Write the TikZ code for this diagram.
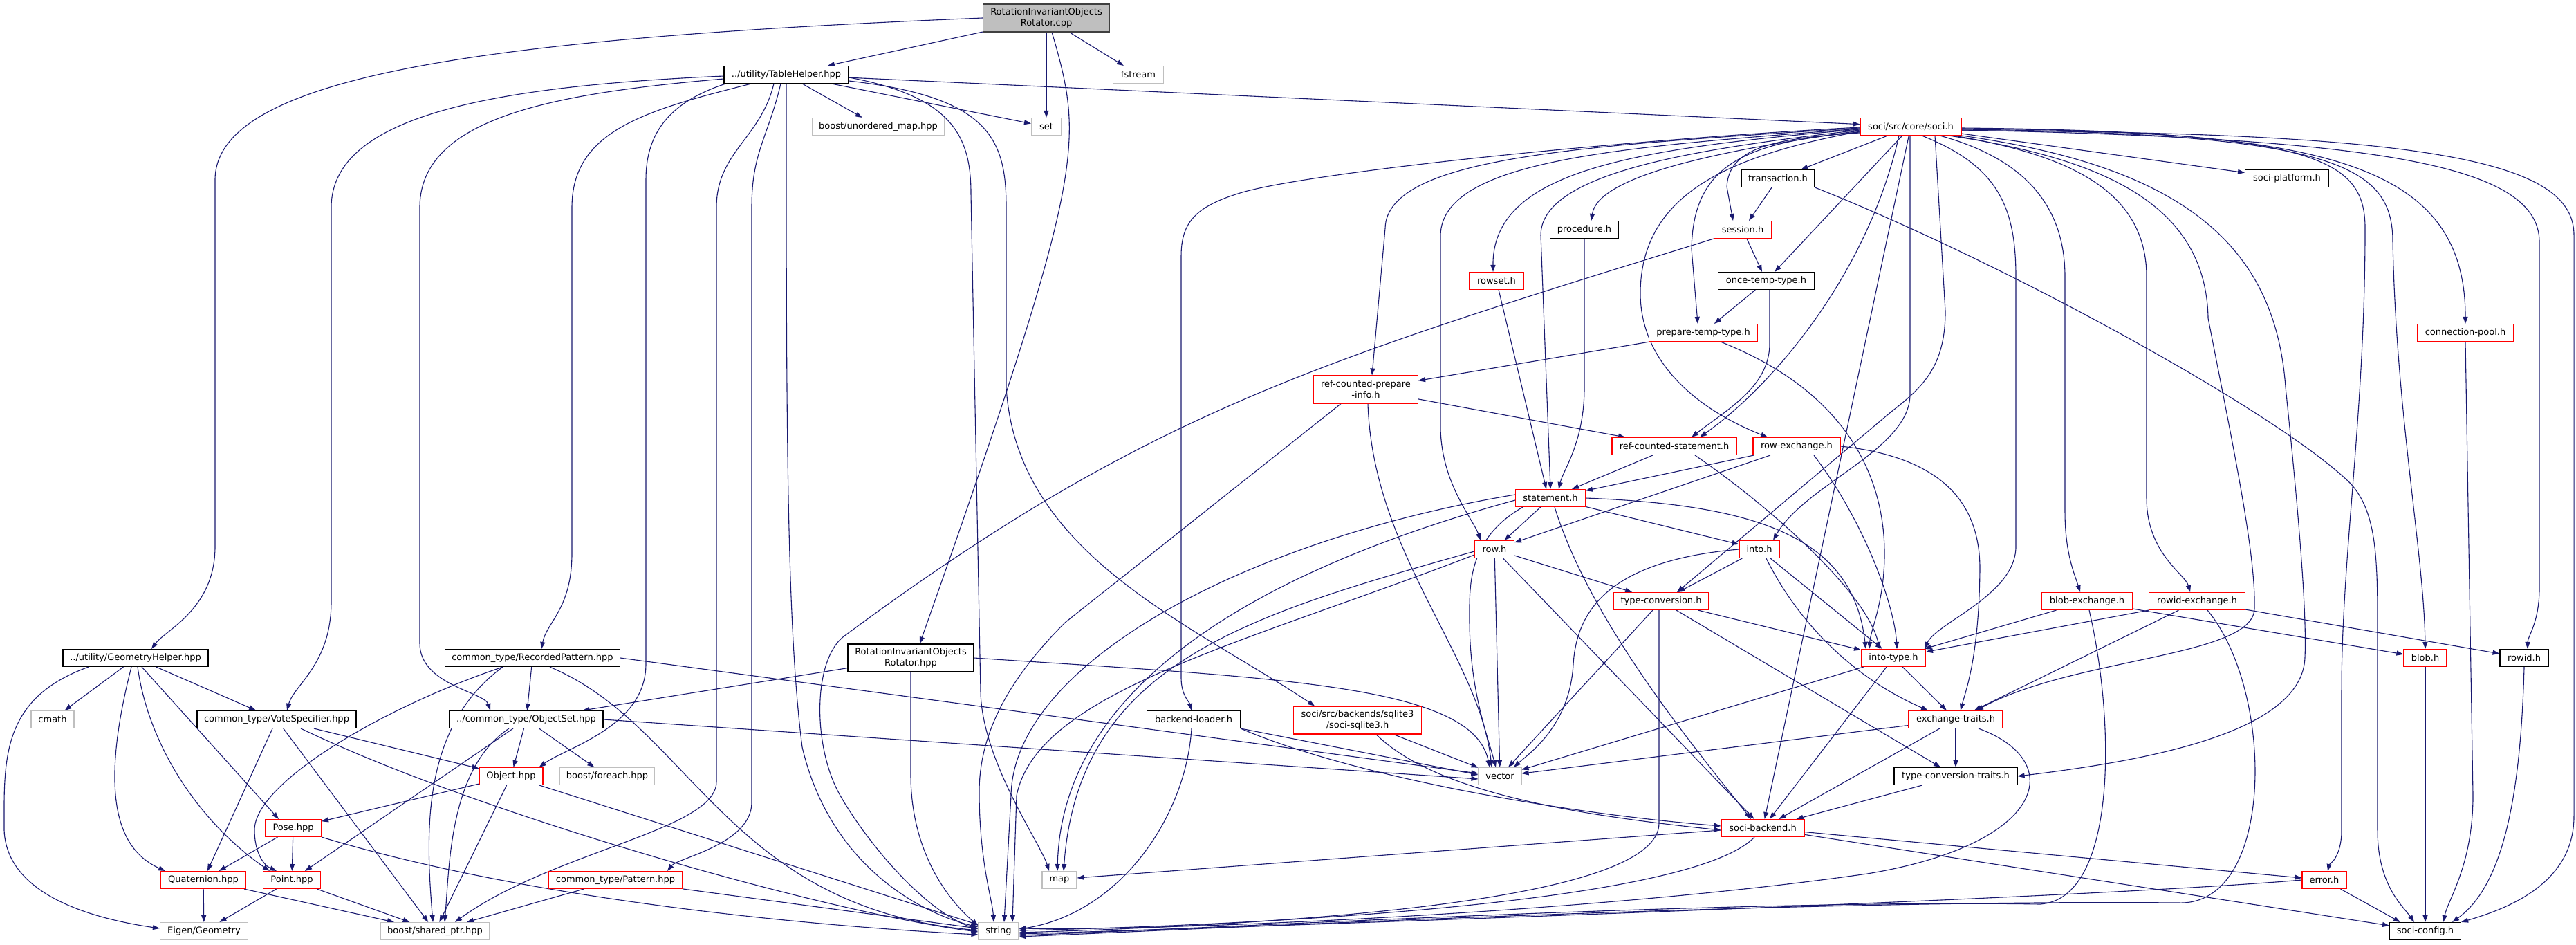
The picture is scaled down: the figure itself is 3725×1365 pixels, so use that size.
\documentclass[tikz,border=0pt]{standalone}
\usepackage{fontspec}
\newfontfamily\dvs{DejaVu Sans}
\usetikzlibrary{arrows.meta,backgrounds}
\definecolor{edgec}{HTML}{191970}
\definecolor{gbord}{HTML}{BFBFBF}
\definecolor{rootfill}{HTML}{BFBFBF}
\definecolor{rootdraw}{HTML}{404040}
\definecolor{redb}{HTML}{FF0000}
\begin{document}
\begin{tikzpicture}[x=1pt,y=1pt,
  nd/.style={draw, line width=1.1pt, fill=white, minimum height=25pt, inner xsep=4pt, inner ysep=2pt,
    font=\dvs\fontsize{13pt}{16pt}\selectfont, text=black, align=center},
  blk/.style={nd, draw=black},
  rd/.style={nd, draw=redb},
  gr/.style={nd, draw=gbord},
  rt/.style={nd, draw=rootdraw, fill=rootfill},
  two/.style={minimum height=40pt},
  edg/.style={draw=edgec, line width=1.1pt, -{Triangle[length=10pt,width=7pt]}}]
\useasboundingbox (0,0) rectangle (3725,-1365);

% ---------- nodes ----------
\node[rt,two,minimum width=183pt] (root) at (1513,-26) {RotationInvariantObjects\\Rotator.cpp};
\node[blk,minimum width=180pt] (th) at (1137,-108) {../utility/TableHelper.hpp};
\node[gr,minimum width=73pt] (fstream) at (1646,-108) {fstream};
\node[gr,minimum width=191pt] (unord) at (1270,-183) {boost/unordered\_map.hpp};
\node[gr,minimum width=43pt] (set) at (1513,-183) {set};
\node[rd,minimum width=146pt] (soci) at (2763,-183) {soci/src/core/soci.h};
\node[blk,minimum width=106pt] (trans) at (2571,-258) {transaction.h};
\node[blk,minimum width=121pt] (platform) at (3307,-258) {soci-platform.h};
\node[blk,minimum width=99pt] (proc) at (2291,-332) {procedure.h};
\node[rd,minimum width=83pt] (sess) at (2520,-332) {session.h};
\node[rd,minimum width=79pt] (rowset) at (2164,-406) {rowset.h};
\node[blk,minimum width=139pt] (once) at (2554,-406) {once-temp-type.h};
\node[rd,minimum width=157pt] (prep) at (2463,-481) {prepare-temp-type.h};
\node[rd,minimum width=139pt] (cpool) at (3565,-481) {connection-pool.h};
\node[rd,two,minimum width=151pt] (rcpi) at (1975,-563) {ref-counted-prepare\\-info.h};
\node[rd,minimum width=180pt] (rcs) at (2421,-645) {ref-counted-statement.h};
\node[rd,minimum width=126pt] (rowex) at (2598,-645) {row-exchange.h};
\node[rd,minimum width=101pt] (stmt) at (2242,-720) {statement.h};
\node[rd,minimum width=57pt] (row) at (2161,-794) {row.h};
\node[rd,minimum width=58pt] (into) at (2544,-794) {into.h};
\node[rd,minimum width=138pt] (tconv) at (2402,-869) {type-conversion.h};
\node[rd,minimum width=131pt] (blobex) at (3018,-869) {blob-exchange.h};
\node[rd,minimum width=139pt] (rowidex) at (3177,-869) {rowid-exchange.h};
\node[blk,minimum width=210pt] (geom) at (196,-951) {../utility/GeometryHelper.hpp};
\node[blk,minimum width=253pt] (recpat) at (770,-951) {common\_type/RecordedPattern.hpp};
\node[blk,two,minimum width=182pt] (rothpp) at (1317,-951) {RotationInvariantObjects\\Rotator.hpp};
\node[rd,minimum width=93pt] (intotype) at (2738,-951) {into-type.h};
\node[rd,minimum width=62pt] (blob) at (3507,-951) {blob.h};
\node[blk,minimum width=70pt] (rowid) at (3650,-951) {rowid.h};
\node[gr,minimum width=62pt] (cmath) at (76,-1040) {cmath};
\node[blk,minimum width=230pt] (vote) at (400,-1040) {common\_type/VoteSpecifier.hpp};
\node[blk,minimum width=222pt] (objset) at (761,-1040) {../common\_type/ObjectSet.hpp};
\node[blk,minimum width=135pt] (bload) at (1726,-1040) {backend-loader.h};
\node[rd,two,minimum width=185pt] (sqlite) at (1963,-1041) {soci/src/backends/sqlite3\\/soci-sqlite3.h};
\node[rd,minimum width=136pt] (extraits) at (2828,-1040) {exchange-traits.h};
\node[rd,minimum width=92pt] (object) at (739,-1122) {Object.hpp};
\node[gr,minimum width=137pt] (foreach) at (878,-1122) {boost/foreach.hpp};
\node[gr,minimum width=62pt] (vector) at (2169,-1122) {vector};
\node[blk,minimum width=178pt] (tctraits) at (2828,-1122) {type-conversion-traits.h};
\node[rd,minimum width=81pt] (pose) at (424,-1197) {Pose.hpp};
\node[rd,minimum width=120pt] (backend) at (2549,-1197) {soci-backend.h};
\node[rd,minimum width=123pt] (quat) at (294,-1272) {Quaternion.hpp};
\node[rd,minimum width=83pt] (point) at (422,-1272) {Point.hpp};
\node[rd,minimum width=193pt] (pattern) at (890,-1272) {common\_type/Pattern.hpp};
\node[gr,minimum width=50pt] (map) at (1532,-1272) {map};
\node[rd,minimum width=64pt] (error) at (3361,-1272) {error.h};
\node[gr,minimum width=127pt] (eigen) at (295,-1346) {Eigen/Geometry};
\node[gr,minimum width=158pt] (shptr) at (629,-1346) {boost/shared\_ptr.hpp};
\node[gr,minimum width=58pt] (string) at (1444,-1346) {string};
\node[blk,minimum width=103pt] (config) at (3507,-1346) {soci-config.h};

\begin{pgfonlayer}{background}
\fill[white] (0,0) rectangle (3725,-1365);
% root
\draw[edg] (root) -- (th);
\draw[edg] (root) -- (set);
\draw[edg] (root) -- (fstream);
\draw[edg] (root.west) .. controls (700,-55) and (311,-110) .. (311,-260) -- (311,-790) .. controls (311,-880) and (240,-910) .. ([xshift=23pt]geom.north);
\draw[edg] ([xshift=8pt]root.south) .. controls (1540,-110) and (1548,-150) .. (1546,-200) .. controls (1542,-300) and (1500,-450) .. ([xshift=13pt]rothpp.north);
% TableHelper
\draw[edg] (th) -- (unord);
\draw[edg] (th) -- (set);
\draw[edg] (th) -- (soci);
\draw[edg] ([yshift=-2pt]th.west) .. controls (700,-125) and (479,-170) .. (479,-300) -- (479,-870) .. controls (479,-960) and (425,-990) .. ([xshift=15pt]vote.north);
\draw[edg] ([yshift=-6pt]th.west) .. controls (800,-135) and (607,-170) .. (607,-300) -- (607,-930) .. controls (607,-990) and (700,-1000) .. ([xshift=-52pt]objset.north);
\draw[edg] ([xshift=40pt]th.south west) .. controls (930,-160) and (827,-190) .. (827,-300) -- (827,-800) .. controls (827,-880) and (790,-900) .. ([xshift=13pt]recpat.north);
\draw[edg] ([xshift=3pt]th.south west) .. controls (960,-150) and (934,-200) .. (934,-260) -- (934,-960) .. controls (934,-1050) and (820,-1080) .. ([xshift=-6pt]object.north east);
\draw[edg] ([xshift=-18pt]th.south) .. controls (1100,-200) and (1036,-220) .. (1036,-300) -- (1036,-1130) .. controls (1036,-1200) and (800,-1230) .. ([xshift=29pt]shptr.north);
\draw[edg] ([xshift=-8pt]th.south) .. controls (1110,-200) and (1087,-220) .. (1087,-300) -- (1087,-1160) .. controls (1087,-1220) and (980,-1240) .. ([xshift=75pt]pattern.north);
\draw[edg] (th.south) .. controls (1137,-600) and (1137,-900) .. (1160,-1080) .. controls (1200,-1250) and (1330,-1320) .. ([yshift=6pt]string.west);
\draw[edg] ([yshift=-4pt]th.east) .. controls (1380,-140) and (1404,-200) .. (1404,-280) -- (1418,-1000) .. controls (1420,-1100) and (1505,-1220) .. ([xshift=-15pt]map.north);
\draw[edg] ([yshift=-9pt]th.east) .. controls (1430,-140) and (1455,-200) .. (1455,-300) -- (1455,-560) .. controls (1470,-800) and (1720,-900) .. ([xshift=-62pt]sqlite.north);
% soci.h left fan
\draw[edg] ([yshift=-1pt]soci.west) .. controls (2300,-205) and (1900,-250) .. (1800,-277) .. controls (1730,-297) and (1708,-320) .. (1708,-370) -- (1708,-980) .. controls (1708,-1005) and (1720,-1015) .. ([xshift=-3pt]bload.north);
\draw[edg] ([yshift=-2pt]soci.west) .. controls (2300,-210) and (2005,-225) .. (2003,-330) -- ([xshift=9pt]rcpi.north);
\draw[edg] ([yshift=-3pt]soci.west) .. controls (2350,-212) and (2085,-230) .. (2083,-340) -- (2083,-620) .. controls (2085,-700) and (2130,-750) .. ([xshift=-20pt]row.north);
\draw[edg] ([yshift=-4pt]soci.west) .. controls (2350,-215) and (2158,-250) .. ([xshift=-5pt]rowset.north);
\draw[edg] ([yshift=-5pt]soci.west) .. controls (2450,-215) and (2228,-250) .. (2228,-340) -- (stmt.north);
\draw[edg] ([yshift=-6pt]soci.west) .. controls (2450,-222) and (2310,-260) .. ([xshift=10pt]proc.north);
\draw[edg] ([yshift=-7pt]soci.west) .. controls (2500,-225) and (2375,-280) .. (2372,-420) .. controls (2370,-520) and (2450,-590) .. ([xshift=-42pt]rowex.north);
\draw[edg] ([yshift=-8pt]soci.west) .. controls (2520,-205) and (2448,-240) .. (2446,-360) -- ([xshift=-8pt]prep.north);
\draw[edg] ([yshift=-9pt]soci.west) .. controls (2560,-200) and (2500,-215) .. (2497,-270) -- ([xshift=-14pt]sess.north);
% soci.h down
\draw[edg] (soci) -- (trans);
\draw[edg] (soci) -- (once);
\draw[edg] ([xshift=-17pt]soci.south) .. controls (2700,-400) and (2560,-560) .. ([xshift=37pt]rcs.north);
\draw[edg] ([xshift=-1pt]soci.south) -- (2762,-570) .. controls (2762,-650) and (2610,-700) .. ([xshift=20pt]into.north);
\draw[edg] ([xshift=35pt]soci.south) -- (2813,-450) .. controls (2813,-530) and (2780,-560) .. (2735,-595) -- ([xshift=23pt]tconv.north);
\draw[edg] ([xshift=16pt]soci.south) .. controls (2890,-240) and (2915,-300) .. (2915,-400) -- (2915,-790) .. controls (2915,-860) and (2800,-900) .. ([xshift=45pt]intotype.north);
\draw[edg] ([xshift=42pt]soci.south) .. controls (2930,-230) and (2986,-300) .. (2986,-400) -- (2986,-740) .. controls (2986,-800) and (3000,-830) .. ([xshift=-10pt]blobex.north);
\draw[edg] ([xshift=62pt]soci.south) .. controls (3000,-225) and (3104,-280) .. (3104,-400) -- (3104,-720) .. controls (3104,-800) and (3160,-830) .. ([xshift=-10pt]rowidex.north);
\draw[edg] ([xshift=55pt]soci.south) .. controls (3050,-230) and (3190,-300) .. (3193,-460) .. controls (3230,-650) and (3262,-800) .. (3260,-880) .. controls (3258,-950) and (3000,-950) .. ([xshift=30pt]extraits.north);
\draw[edg] (soci.south east) .. controls (3150,-240) and (3290,-350) .. (3305,-560) .. controls (3330,-800) and (3335,-900) .. (3333,-950) .. controls (3330,-1060) and (3100,-1100) .. (tctraits.east);
\draw[edg] (soci) -- (backend);
% soci.h right
\draw[edg] (soci) -- (platform);
\draw[edg] ([yshift=-2pt]soci.east) .. controls (3350,-190) and (3565,-230) .. (cpool.north);
\draw[edg] ([yshift=-3pt]soci.east) .. controls (3350,-190) and (3420,-230) .. (3420,-330) .. controls (3420,-600) and (3386,-800) .. (3386,-1000) -- (3386,-1200) .. controls (3386,-1240) and (3368,-1250) .. ([xshift=5pt]error.north);
\draw[edg] ([yshift=-4pt]soci.east) .. controls (3380,-193) and (3460,-240) .. (3460,-350) .. controls (3465,-600) and (3505,-800) .. (blob.north);
\draw[edg] ([yshift=-5pt]soci.east) .. controls (3450,-200) and (3672,-240) .. (3672,-350) -- (3672,-850) .. controls (3672,-900) and (3655,-920) .. ([xshift=5pt]rowid.north);
\draw[edg] ([yshift=-6pt]soci.east) .. controls (3550,-190) and (3722,-240) .. (3722,-340) -- (3722,-1180) .. controls (3722,-1280) and (3620,-1315) .. (config.north east);
% transaction, session, once, procedure, rowset
\draw[edg] (trans) -- (sess);
\draw[edg] (trans.south east) .. controls (2900,-380) and (3300,-600) .. (3400,-700) .. controls (3435,-740) and (3438,-800) .. (3438,-900) -- (3438,-1200) .. controls (3438,-1280) and (3475,-1310) .. ([xshift=-16pt]config.north);
\draw[edg] (sess) -- (once);
\draw[edg] (sess.south west) .. controls (1907,-522) and (1659,-595) .. (1220,-920) .. controls (1175,-955) and (1175,-1080) .. (1215,-1150) .. controls (1255,-1220) and (1340,-1320) .. ([yshift=3pt]string.west);
\draw[edg] (once) -- (prep);
\draw[edg] ([xshift=5pt]once.south) -- (2559,-500) .. controls (2556,-560) and (2500,-590) .. ([xshift=25pt]rcs.north);
\draw[edg] (proc.south) -- (2291,-560) .. controls (2291,-640) and (2260,-680) .. ([xshift=12pt]stmt.north);
\draw[edg] (rowset) -- ([xshift=-6pt]stmt.north);
% prepare, ref-counted
\draw[edg] (prep) -- (rcpi);
\draw[edg] ([xshift=25pt]prep.south) .. controls (2680,-570) and (2725,-700) .. (2725,-800) .. controls (2725,-870) and (2705,-910) .. ([xshift=-35pt]intotype.north);
\draw[edg] (rcpi) -- (rcs);
\draw[edg] ([xshift=3pt]rcpi.south) .. controls (1985,-800) and (2140,-950) .. ([xshift=-12pt]vector.north);
\draw[edg] ([xshift=-36pt]rcpi.south) -- (1540,-900) .. controls (1440,-1000) and (1415,-1080) .. (1416,-1150) .. controls (1417,-1250) and (1435,-1300) .. ([xshift=-7pt]string.north);
\draw[edg] (rcs) -- (stmt);
\draw[edg] ([xshift=30pt]rcs.south) .. controls (2570,-740) and (2700,-860) .. ([xshift=-20pt]intotype.north);
% row-exchange
\draw[edg] (rowex) -- (stmt);
\draw[edg] (rowex) -- (row);
\draw[edg] ([xshift=25pt]rowex.south) .. controls (2700,-760) and (2740,-880) .. ([xshift=5pt]intotype.north);
\draw[edg] (rowex.east) .. controls (2800,-660) and (2862,-720) .. (2863,-820) .. controls (2862,-950) and (2842,-1000) .. ([xshift=7pt]extraits.north);
% statement
\draw[edg] (stmt) -- (row);
\draw[edg] (stmt) -- (into);
\draw[edg] (stmt.east) .. controls (2550,-730) and (2680,-780) .. ([xshift=-40pt]intotype.north);
\draw[edg] ([xshift=6pt]stmt.south) .. controls (2300,-900) and (2450,-1080) .. ([xshift=-17pt]backend.north);
\draw[edg] ([xshift=-40pt]stmt.south) .. controls (2120,-780) and (2125,-850) .. (2125,-900) .. controls (2126,-1000) and (2150,-1060) .. ([xshift=-6pt]vector.north);
\draw[edg] ([yshift=5pt]stmt.west) .. controls (1800,-780) and (1465,-960) .. (1462,-1150) -- ([xshift=8pt]string.north);
\draw[edg] ([yshift=-3pt]stmt.west) .. controls (1800,-830) and (1535,-1000) .. ([xshift=-3pt]map.north);
% row
\draw[edg] (row) -- (tconv);
\draw[edg] (row) -- (vector);
\draw[edg] (row) -- (backend);
\draw[edg] ([yshift=-3pt]row.west) .. controls (1800,-890) and (1560,-960) .. ([xshift=6pt]map.north);
\draw[edg] ([yshift=-8pt]row.west) .. controls (1800,-930) and (1500,-1000) .. (1470,-1150) -- ([xshift=20pt]string.north);
% into
\draw[edg] (into) -- (tconv);
\draw[edg] (into) -- (intotype);
\draw[edg] ([xshift=10pt]into.south) .. controls (2600,-900) and (2680,-980) .. ([xshift=-40pt]extraits.north);
\draw[edg] (into.west) .. controls (2330,-810) and (2280,-880) .. (2275,-960) .. controls (2270,-1050) and (2210,-1090) .. ([xshift=20pt]vector.north);
% type-conversion
\draw[edg] (tconv) -- (intotype);
\draw[edg] (tconv) -- (tctraits);
\draw[edg] (tconv) -- (vector);
\draw[edg] ([xshift=-3pt]tconv.south) -- (2399,-1190) .. controls (2399,-1300) and (1900,-1335) .. ([yshift=-2pt]string.east);
% into-type, exchange-traits, type-conversion-traits
\draw[edg] (intotype) -- (extraits);
\draw[edg] (intotype) -- (backend);
\draw[edg] (intotype) -- (vector);
\draw[edg] (extraits) -- (tctraits);
\draw[edg] (extraits) -- (backend);
\draw[edg] (extraits) -- (vector);
\draw[edg] ([xshift=33pt]extraits.south) .. controls (2990,-1100) and (2960,-1220) .. (2700,-1263) .. controls (2300,-1320) and (1700,-1345) .. ([yshift=4pt]string.east);
\draw[edg] (tctraits) -- (backend);
% blob-exchange, rowid-exchange
\draw[edg] (blobex) -- (blob);
\draw[edg] (blobex) -- (intotype);
\draw[edg] ([xshift=3pt]blobex.south) .. controls (3060,-1050) and (3060,-1300) .. (2950,-1307) .. controls (2500,-1300) and (1800,-1340) .. ([yshift=-6pt]string.east);
\draw[edg] (rowidex) -- (rowid);
\draw[edg] (rowidex) -- (intotype);
\draw[edg] (rowidex) -- (extraits);
\draw[edg] ([xshift=15pt]rowidex.south) .. controls (3290,-1000) and (3290,-1310) .. (3150,-1305) .. controls (2600,-1300) and (1800,-1340) .. ([yshift=-8pt]string.east);
% soci-config group
\draw[edg] (cpool.south) -- (3576,-1150) .. controls (3576,-1250) and (3540,-1300) .. ([xshift=26pt]config.north);
\draw[edg] (blob) -- (config);
\draw[edg] (rowid.south) .. controls (3645,-1150) and (3620,-1280) .. ([xshift=39pt]config.north);
\draw[edg] (error) -- ([xshift=-36pt]config.north);
\draw[edg] (error.west) .. controls (3000,-1300) and (1800,-1340) .. ([yshift=-4pt]string.east);
% soci-backend
\draw[edg] ([yshift=-3pt]backend.west) -- ([yshift=3pt]map.east);
\draw[edg] ([xshift=-12pt]backend.south) .. controls (2450,-1300) and (1900,-1335) .. ([yshift=1pt]string.east);
\draw[edg] (backend) -- (error);
\draw[edg] (backend) -- (config);
% backend-loader, sqlite3
\draw[edg] ([xshift=-3pt]bload.south) .. controls (1715,-1180) and (1620,-1320) .. ([yshift=3pt]string.east);
\draw[edg] (bload.south east) -- ([yshift=2pt]vector.west);
\draw[edg] (bload.south east) .. controls (1950,-1120) and (2250,-1175) .. ([yshift=3pt]backend.west);
\draw[edg] (sqlite) -- (vector);
\draw[edg] ([xshift=27pt]sqlite.south) .. controls (2080,-1150) and (2300,-1180) .. ([yshift=-3pt]backend.west);
% Rotator.hpp
\draw[edg] (rothpp) -- (objset);
\draw[edg] (rothpp.south) -- (1317,-1120) .. controls (1317,-1230) and (1370,-1300) .. ([yshift=8pt]string.west);
\draw[edg] (rothpp.east) .. controls (1850,-980) and (2130,-990) .. ([xshift=-15pt]vector.north);
% RecordedPattern
\draw[edg] (recpat) -- (objset);
\draw[edg] ([xshift=-43pt]recpat.south) .. controls (560,-1020) and (368,-1130) .. (368,-1200) .. controls (368,-1230) and (380,-1250) .. ([xshift=-22pt]point.north);
\draw[edg] ([xshift=-43pt]recpat.south) .. controls (610,-1050) and (615,-1200) .. ([xshift=-3pt]shptr.north);
\draw[edg] ([xshift=25pt]recpat.south) .. controls (1000,-1050) and (1050,-1310) .. ([yshift=1pt]string.west);
\draw[edg] (recpat.east) -- ([yshift=4pt]vector.west);
% GeometryHelper
\draw[edg] (geom) -- (cmath);
\draw[edg] (geom) -- (vote);
\draw[edg] ([xshift=9pt]geom.south) -- ([xshift=-21pt]pose.north);
\draw[edg] ([xshift=3pt]geom.south) .. controls (215,-1080) and (290,-1190) .. ([xshift=-32pt]point.north);
\draw[edg] ([xshift=-6pt]geom.south) .. controls (140,-1160) and (175,-1230) .. ([xshift=-55pt]quat.north);
\draw[edg] ([xshift=-68pt]geom.south) .. controls (0,-1010) and (6,-1100) .. (6,-1200) .. controls (10,-1300) and (150,-1330) .. ([yshift=4pt]eigen.west);
% VoteSpecifier
\draw[edg] (vote) -- (object);
\draw[edg] (vote) -- (quat);
\draw[edg] (vote) -- (shptr);
\draw[edg] ([xshift=35pt]vote.south) .. controls (700,-1180) and (1200,-1320) .. ([yshift=-1pt]string.west);
% ObjectSet
\draw[edg] (objset) -- (object);
\draw[edg] (objset) -- (foreach);
\draw[edg] (objset) -- (point);
\draw[edg] ([xshift=-25pt]objset.south) .. controls (650,-1110) and (650,-1250) .. ([xshift=14pt]shptr.north);
\draw[edg] (objset.east) -- ([yshift=-4pt]vector.west);
% Object
\draw[edg] (object) -- (pose);
\draw[edg] (object) -- (shptr);
\draw[edg] (object) -- (string);
% Pose, Quaternion, Point, Pattern
\draw[edg] (pose) -- (quat);
\draw[edg] (pose) -- (point);
\draw[edg] (pose.south east) .. controls (780,-1305) and (1200,-1340) .. ([yshift=-5pt]string.west);
\draw[edg] (quat) -- (eigen);
\draw[edg] (quat) -- (shptr);
\draw[edg] (point) -- (eigen);
\draw[edg] (point) -- (shptr);
\draw[edg] (pattern) -- (shptr);
\draw[edg] (pattern) -- (string);
\end{pgfonlayer}
\end{tikzpicture}
\end{document}
